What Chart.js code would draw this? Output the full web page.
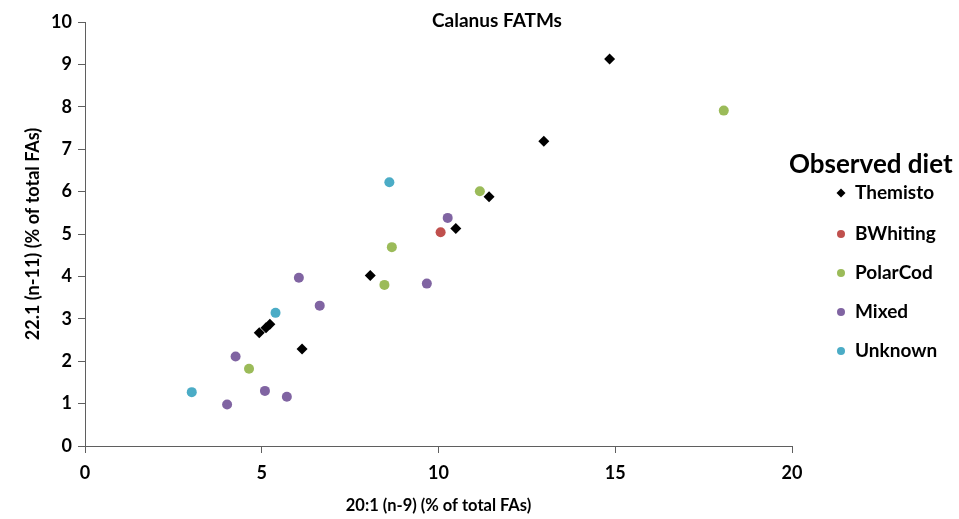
<!DOCTYPE html>
<html>
<head>
<meta charset="utf-8">
<script src="https://cdn.jsdelivr.net/npm/chart.js@4/dist/chart.umd.min.js"></script>
<style>
  html, body { margin: 0; padding: 0; background: #ffffff; }
  #wrap { width: 959px; height: 519px; position: relative; }
</style>
</head>
<body>
<div id="wrap"><canvas id="c" width="959" height="519"></canvas></div>
<script>
// ---- Data ----
const seriesNames = ["Themisto", "BWhiting", "PolarCod", "Mixed", "Unknown"];
const seriesColors = ["#000000", "#C0504D", "#9BBB59", "#8064A2", "#4BACC6"];

const themistoX = [14.84, 12.98, 11.43, 10.49, 8.07, 6.14, 4.93, 5.12, 5.23];
const themistoY = [9.13, 7.19, 5.88, 5.13, 4.02, 2.29, 2.67, 2.79, 2.87];

const bwhitingX = [10.06];
const bwhitingY = [5.04];

const polarCodX = [18.07, 11.17, 8.68, 8.47, 4.64];
const polarCodY = [7.91, 6.01, 4.69, 3.80, 1.82];

const mixedX = [10.26, 6.05, 6.64, 9.67, 4.26, 5.09, 5.71, 4.02];
const mixedY = [5.38, 3.97, 3.31, 3.83, 2.11, 1.30, 1.16, 0.98];

const unknownX = [8.61, 5.39, 3.02];
const unknownY = [6.22, 3.14, 1.27];

const xTicks = [0, 5, 10, 15, 20];
const yTicks = [0, 1, 2, 3, 4, 5, 6, 7, 8, 9, 10];

const chartTitle = "Calanus FATMs";
const xTitle = "20:1 (n-9) (% of total FAs)";
const yTitle = "22.1 (n-11) (% of total FAs)";
const legendTitle = "Observed diet";

// ---- Build datasets ----
function pts(xs, ys) { return xs.map((x, i) => ({ x: x, y: ys[i] })); }
const allX = [themistoX, bwhitingX, polarCodX, mixedX, unknownX];
const allY = [themistoY, bwhitingY, polarCodY, mixedY, unknownY];

const FONT = "Lato, 'Open Sans', 'DejaVu Sans', sans-serif";
const AXIS_COLOR = "#5f5f5f";

const datasets = seriesNames.map((name, i) => ({
  label: name,
  data: pts(allX[i], allY[i]),
  pointStyle: i === 0 ? "rectRot" : "circle",
  pointRadius: i === 0 ? 5.5 : 5,
  pointHoverRadius: i === 0 ? 5.5 : 5,
  backgroundColor: seriesColors[i],
  borderColor: seriesColors[i],
  borderWidth: 0,
  showLine: false
}));

// ---- Custom overlay: chart title and legend ----
const overlay = {
  id: "overlay",
  afterDraw(chart) {
    const ctx = chart.ctx;
    ctx.save();
    ctx.fillStyle = "#000";
    ctx.textBaseline = "middle";
    // chart title
    ctx.font = "bold 19px " + FONT;
    ctx.textAlign = "center";
    ctx.fillText(chartTitle, 497, 21);
    // legend title
    ctx.font = "bold 26px " + FONT;
    ctx.textAlign = "left";
    ctx.fillText(legendTitle, 789, 165);
    // legend items
    const ys = [193, 234, 273, 312, 351];
    ctx.font = "bold 19px " + FONT;
    seriesNames.forEach((name, i) => {
      const mx = 841, my = ys[i];
      ctx.fillStyle = seriesColors[i];
      ctx.beginPath();
      if (i === 0) {
        const r = 4.5;
        ctx.moveTo(mx, my - r); ctx.lineTo(mx + r, my); ctx.lineTo(mx, my + r); ctx.lineTo(mx - r, my);
        ctx.closePath();
      } else {
        ctx.arc(mx, my, 4, 0, Math.PI * 2);
      }
      ctx.fill();
      ctx.fillStyle = "#000";
      ctx.fillText(name, 855, my);
    });
    ctx.restore();
  }
};

new Chart(document.getElementById("c"), {
  type: "scatter",
  data: { datasets: datasets },
  plugins: [overlay],
  options: {
    responsive: false,
    animation: false,
    devicePixelRatio: 1,
    layout: { padding: { left: 0, right: 167, top: 22, bottom: 0 } },
    plugins: {
      legend: { display: false },
      title: { display: false },
      tooltip: { enabled: false }
    },
    scales: {
      x: {
        type: "linear",
        min: 0, max: 20,
        afterBuildTicks(s) { s.ticks = xTicks.map(v => ({ value: v })); },
        afterFit(s) { s.height = 73; },
        border: { display: true, color: AXIS_COLOR, width: 1 },
        grid: { display: true, drawOnChartArea: false, drawTicks: true, tickLength: 7, color: AXIS_COLOR },
        ticks: { color: "#000", padding: 9, font: { family: FONT, size: 18, weight: "bold" }, maxRotation: 0 },
        title: { display: true, text: xTitle, color: "#000", padding: { top: 0, bottom: 3 }, font: { family: FONT, size: 16.5, weight: "bold" } }
      },
      y: {
        type: "linear",
        min: 0, max: 10,
        afterBuildTicks(s) { s.ticks = yTicks.map(v => ({ value: v })); },
        afterFit(s) { s.width = 85; },
        border: { display: true, color: AXIS_COLOR, width: 1 },
        grid: { display: true, drawOnChartArea: false, drawTicks: true, tickLength: 7, color: AXIS_COLOR },
        ticks: { color: "#000", padding: 6, font: { family: FONT, size: 18, weight: "bold" } },
        title: { display: true, text: yTitle, color: "#000", padding: { top: 22, bottom: 0 }, font: { family: FONT, size: 18, weight: "bold" } }
      }
    }
  }
});
</script>
</body>
</html>
